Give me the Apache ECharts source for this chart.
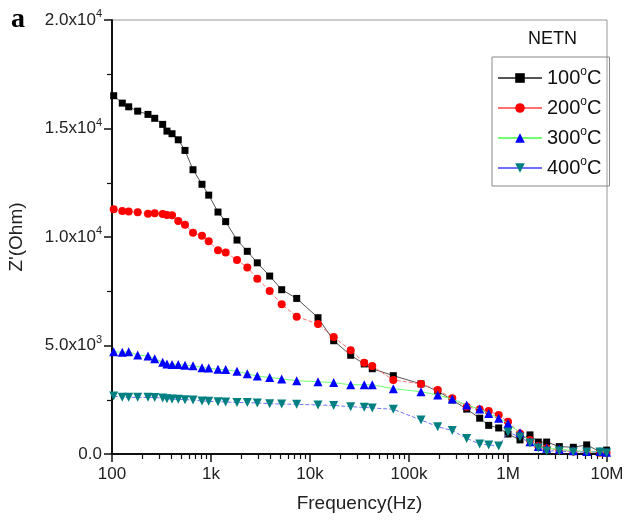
<!DOCTYPE html>
<html><head><meta charset="utf-8">
<script src="https://cdn.jsdelivr.net/npm/echarts@6/dist/echarts.min.js"></script>
<style>html,body{margin:0;padding:0;background:#fff}#c{width:629px;height:522px}</style>
</head><body><div id="c"></div>
<script>
const freq = [104,127,147.5,181.8,231,270,325,359,404,467,546,658,811,948,1177,1407,1831,2326,2935,3917,5179,7341,12050,17350,25770,35320,42560,69400,132200,195000,273600,382700,517600,638300,805400,1000000,1322000,1667000,2023000,2458000,3300000,4567000,6237000,8486000,9900000];
const z100 = [16510,16170,16000,15800,15650,15470,15190,14880,14760,14480,13990,13100,12430,11930,11150,10710,9860,9340,8810,8200,7570,7170,6280,5220,4550,4150,3930,3610,3230,2900,2490,2070,1650,1320,1200,920,650,880,550,550,340,310,420,110,180];
const z200 = [11280,11200,11180,11140,11070,11090,11060,11010,11000,10740,10570,10200,10060,9800,9390,9290,8940,8600,8080,7510,6900,6330,5990,5390,4780,4210,4050,3410,3230,2950,2570,2180,2060,1980,1800,1490,950,650,370,260,180,110,110,60,60];
const z300 = [4710,4690,4710,4560,4520,4390,4230,4150,4130,4130,4090,4070,3980,3960,3900,3890,3810,3700,3590,3530,3460,3380,3330,3290,3190,3190,3190,3010,2870,2720,2530,2260,2070,1870,1650,1410,980,570,340,260,220,150,110,110,80];
const z400 = [2670,2610,2610,2610,2610,2600,2580,2550,2530,2520,2500,2490,2440,2430,2410,2400,2370,2370,2350,2320,2300,2290,2260,2240,2180,2150,2120,2060,1570,1260,1080,720,460,420,370,1010,780,510,280,140,140,90,90,90,50];
const seriesNames = ['100°C','200°C','300°C','400°C'];
const xTickLabels = {100:'100',1000:'1k',10000:'10k',100000:'100k',1000000:'1M',10000000:'10M'};
const xMinorTicks = [];
[100,1000,10000,100000,1000000].forEach(b=>{for(let k=2;k<=9;k++) xMinorTicks.push(b*k);});

const FONT = 'Liberation Sans';
const chart = echarts.init(document.getElementById('c'));
function pts(arr){ return freq.map((f,i)=>[f,arr[i]]); }
const styles = [
  {sym:'rect', size:7, color:'#000000', line:'#555555', type:'solid', rot:0},
  {sym:'circle', size:8, color:'#ff0000', line:'#ff7070', type:'dashed', rot:0},
  {sym:'triangle', size:9, color:'#0000ff', line:'#70ff70', type:'solid', rot:0},
  {sym:'triangle', size:9, color:'#008080', line:'#7070ff', type:'dashed', rot:180}
];
const datas = [z100,z200,z300,z400];
chart.setOption({
  animation:false,
  backgroundColor:'#fff',
  grid:{left:112,right:22,top:20,bottom:68,show:true,borderColor:'#999',borderWidth:1,outerBoundsMode:'none',containLabel:false},
  xAxis:[{
    type:'log', logBase:10, min:100, max:10000000, position:'bottom',
    name:'Frequency(Hz)', nameLocation:'middle', nameGap:40,
    nameTextStyle:{fontFamily:FONT,fontSize:19,color:'#222'},
    axisLine:{lineStyle:{color:'#111',width:2}},
    axisTick:{show:true,inside:false,length:8,lineStyle:{color:'#111',width:1.5}},
    axisLabel:{fontFamily:FONT,fontSize:17,color:'#222',margin:12,formatter:v=>xTickLabels[Math.round(v)]||''},
    splitLine:{show:false}
  },{
    type:'log', logBase:10, min:100, max:10000000, position:'bottom',
    axisLine:{show:false},
    axisTick:{show:true,inside:false,length:5,customValues:xMinorTicks,lineStyle:{color:'#111',width:1.2}},
    axisLabel:{show:false}, splitLine:{show:false}
  }],
  yAxis:{
    type:'value', min:0, max:20000, interval:5000,
    name:"Z'(Ohm)", nameLocation:'middle', nameGap:86, nameRotate:90,
    nameTextStyle:{fontFamily:FONT,fontSize:19,color:'#222'},
    axisLine:{show:true,lineStyle:{color:'#111',width:2}},
    axisTick:{show:true,length:8,lineStyle:{color:'#111',width:1.5}},
    minorTick:{show:true,splitNumber:2,length:5,lineStyle:{color:'#111',width:1.2}},
    splitLine:{show:false},
    axisLabel:{margin:10,color:'#222',
      formatter:v=>{ if(v===0) return '{m|0.0}'; const e=Math.floor(Math.log10(v)); const m=(v/Math.pow(10,e)).toFixed(1); return '{m|'+m+'x10}{e|'+e+'}'; },
      rich:{m:{fontFamily:FONT,fontSize:17,color:'#222'},e:{fontFamily:FONT,fontSize:11,color:'#222',padding:[0,0,12,0]}}
    }
  },
  legend:{
    left:492, top:57, orient:'vertical', itemWidth:44, itemHeight:12, itemGap:8,
    padding:[9,8,8,5], borderColor:'#888', borderWidth:1,
    data:seriesNames,
    lineStyle:{type:'solid'},
    formatter:n=>n.replace('°C','{s|o}C'),
    textStyle:{fontFamily:FONT,fontSize:20,color:'#111',
      rich:{s:{fontFamily:FONT,fontSize:12,color:'#111',padding:[0,0,12,0]}}}
  },
  graphic:[
    {type:'text',left:11,top:6,style:{text:'a',font:'bold 28px "Liberation Serif"',fill:'#000'}},
    {type:'text',left:528,top:30,style:{text:'NETN',font:'18px "Liberation Sans"',fill:'#111'}}
  ],
  series: datas.map((d,i)=>({
    name:seriesNames[i], type:'line', data:pts(d), xAxisIndex:0,
    symbol:styles[i].sym, symbolSize:styles[i].size, symbolRotate:styles[i].rot,
    itemStyle:{color:styles[i].color},
    lineStyle:{color:styles[i].line,width:1,type:styles[i].type},
    z: 2+i
  }))
});
</script></body></html>
